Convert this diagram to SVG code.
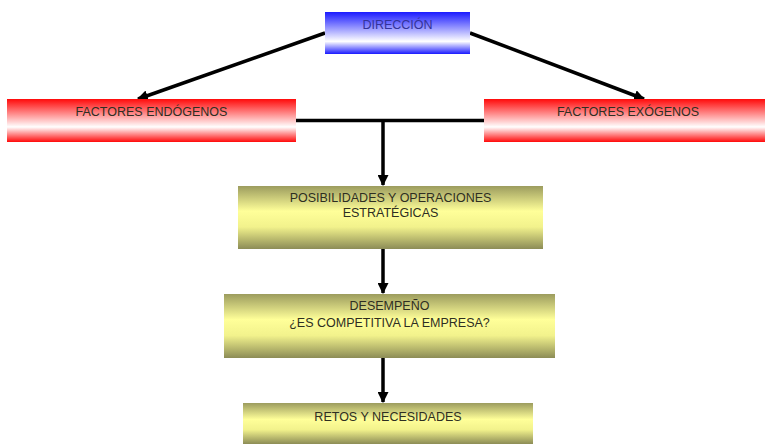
<svg xmlns="http://www.w3.org/2000/svg" width="765" height="444" viewBox="0 0 765 444">
<defs>
<linearGradient id="gBlue" x1="0" y1="0" x2="0" y2="1">
<stop offset="0" stop-color="#1a1aff"/>
<stop offset="0.7" stop-color="#ffffff"/>
<stop offset="1" stop-color="#1a1aff"/>
</linearGradient>
<linearGradient id="gRed" x1="0" y1="0" x2="0" y2="1">
<stop offset="0" stop-color="#ff0a0a"/>
<stop offset="0.65" stop-color="#ffffff"/>
<stop offset="1" stop-color="#ff0a0a"/>
</linearGradient>
<linearGradient id="gYel" x1="0" y1="0" x2="0" y2="1">
<stop offset="0" stop-color="#9c9c5e"/>
<stop offset="0.4" stop-color="#ffff99"/>
<stop offset="0.65" stop-color="#f2f28c"/>
<stop offset="1" stop-color="#8c8c56"/>
</linearGradient>
<marker id="ah" markerWidth="11" markerHeight="11" viewBox="0 0 10 10" refX="9" refY="5" orient="auto" markerUnits="userSpaceOnUse">
<path d="M0,0 L10,5 L0,10 z" fill="#000"/>
</marker>
<style>
text{font-family:"Liberation Sans",Arial,sans-serif;font-size:12.5px;text-anchor:middle}
.c{stroke:#000;stroke-width:3.5;fill:none}
.dark{fill:#2e2e22}
</style>
</defs>
<g id="connectors">
<line class="c" x1="325" y1="33" x2="138" y2="99" marker-end="url(#ah)"/>
<line class="c" x1="470" y1="33" x2="644" y2="99" marker-end="url(#ah)"/>
<line class="c" x1="296" y1="120.5" x2="484" y2="120.5"/>
<line class="c" x1="383" y1="120.5" x2="383" y2="185" marker-end="url(#ah)"/>
<line class="c" x1="383" y1="249" x2="383" y2="293" marker-end="url(#ah)"/>
<line class="c" x1="383" y1="358" x2="383" y2="402" marker-end="url(#ah)"/>
</g>
<g id="direccion">
<rect x="325" y="12" width="145" height="42" fill="url(#gBlue)"/>
<text x="397.5" y="29" fill="#333399">DIRECCIÓN</text>
</g>
<g id="endogenos">
<rect x="7" y="99" width="289" height="43" fill="url(#gRed)"/>
<text x="151.5" y="116" class="dark">FACTORES ENDÓGENOS</text>
</g>
<g id="exogenos">
<rect x="484" y="99" width="281" height="43" fill="url(#gRed)"/>
<text x="628" y="116" class="dark">FACTORES EXÓGENOS</text>
</g>
<g id="posibilidades">
<rect x="238" y="186" width="305" height="63" fill="url(#gYel)"/>
<text x="390.5" y="202" class="dark">POSIBILIDADES Y OPERACIONES</text>
<text x="390.5" y="217" class="dark">ESTRATÉGICAS</text>
</g>
<g id="desempeno">
<rect x="224" y="294" width="331" height="64" fill="url(#gYel)"/>
<text x="389.5" y="310" class="dark">DESEMPEÑO</text>
<text x="389.5" y="327" class="dark">¿ES COMPETITIVA LA EMPRESA?</text>
</g>
<g id="retos">
<rect x="243" y="403" width="290" height="41" fill="url(#gYel)"/>
<text x="388" y="421" class="dark">RETOS Y NECESIDADES</text>
</g>
</svg>
